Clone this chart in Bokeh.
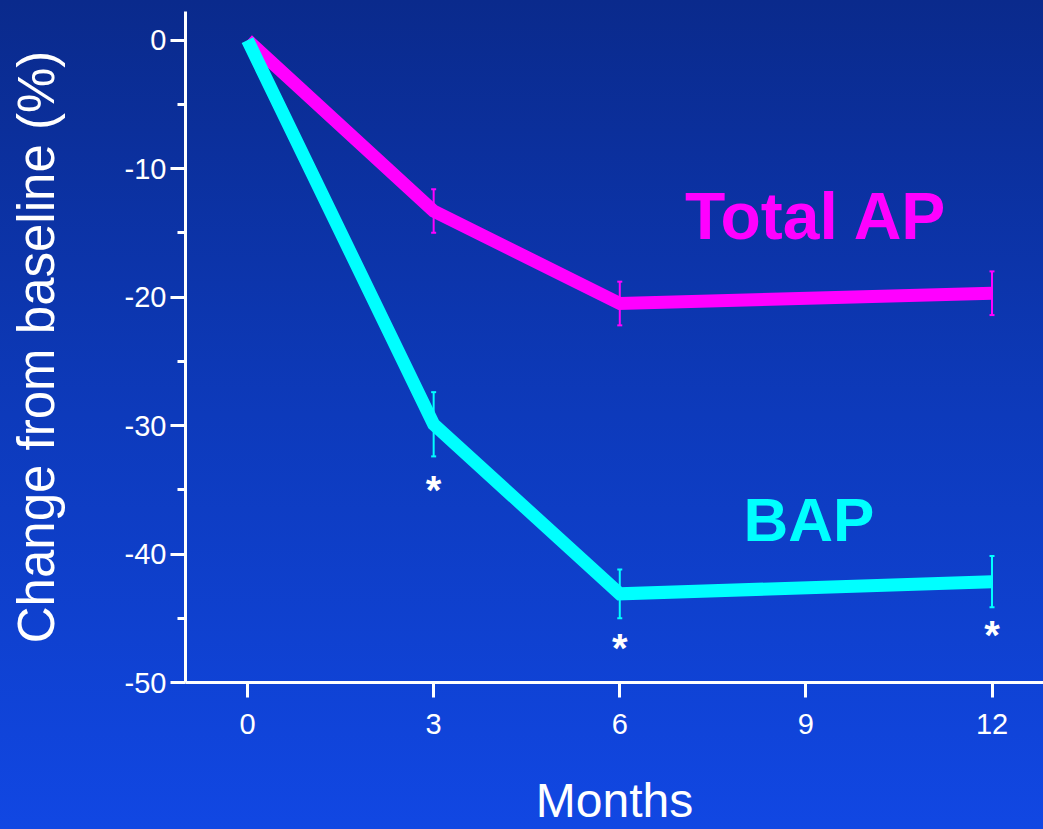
from bokeh.plotting import figure
from bokeh.models import (ColumnDataSource, Range1d, FixedTicker, Whisker, TeeHead,
                          GlobalInlineStyleSheet)
from bokeh.core.properties import value
from bokeh.embed import file_html
from bokeh.resources import INLINE

# ---- data ----
months = [0, 3, 6, 12]
total_ap = [0.0, -13.3, -20.5, -19.7]
bap = [0.0, -29.9, -43.1, -42.15]

err_months = [3, 6, 12]
total_ap_mean = [-13.3, -20.5, -19.7]
total_ap_err = [1.7, 1.7, 1.7]
bap_mean = [-29.9, -43.1, -42.15]
bap_err = [2.5, 1.9, 2.0]

star_months = [3, 6, 12]
star_y = [-34.6, -46.95, -45.9]

x_ticks = [0, 3, 6, 9, 12]
y_ticks = [-50, -40, -30, -20, -10, 0]
y_minor = [-45, -35, -25, -15, -5]

series_labels = ["Total AP", "BAP"]
label_x = [9.17, 9.05]
label_y = [-15.28, -38.87]

MAGENTA = "#FF00FF"
CYAN = "#00FFFF"
FONT = "Liberation Sans"

p = figure(width=1043, height=829, output_backend="svg", toolbar_location=None,
           x_range=Range1d(-1, 12.83), y_range=Range1d(-50, 2.23),
           min_border_left=185, min_border_top=11, min_border_bottom=147,
           min_border_right=0)
p.background_fill_alpha = 0
p.border_fill_alpha = 0
p.outline_line_color = None
p.grid.visible = False
p.stylesheets = [GlobalInlineStyleSheet(css=(
    "html{height:100%;background:linear-gradient(180deg,#0a2a8c 0%,#0d3abb 50%,#1147e3 100%);}"
    "body{background:transparent;}"))]

# axes
for ax in (p.xaxis[0], p.yaxis[0]):
    ax.axis_line_color = "white"
    ax.axis_line_width = 3
    ax.major_tick_line_color = "white"
    ax.major_tick_line_width = 3
    ax.major_tick_out = 15
    ax.major_tick_in = 0
    ax.major_label_text_color = "white"
    ax.major_label_text_font = FONT
    ax.major_label_text_font_size = "29px"
    ax.axis_label_text_color = "white"
    ax.axis_label_text_font = FONT
    ax.axis_label_text_font_style = "normal"

p.xaxis.ticker = FixedTicker(ticks=x_ticks)
p.xaxis.minor_tick_line_color = None
p.xaxis.major_label_standoff = 16
p.xaxis.axis_label = "Months"
p.xaxis.axis_label_text_font_size = "48px"
p.xaxis.axis_label_standoff = 37

p.yaxis.ticker = FixedTicker(ticks=y_ticks, minor_ticks=y_minor)
p.yaxis.major_label_overrides = {t: str(t) for t in y_ticks}
p.yaxis.minor_tick_line_color = "white"
p.yaxis.minor_tick_line_width = 3
p.yaxis.minor_tick_out = 8
p.yaxis.minor_tick_in = 1
p.yaxis.major_label_standoff = 4
p.yaxis.axis_label = "Change from baseline (%)"
p.yaxis.axis_label_text_font_size = "51px"
p.yaxis.axis_label_standoff = 57

# lines
src = ColumnDataSource(dict(x=months, tap=total_ap, bap=bap))
p.line("x", "tap", source=src, line_color=MAGENTA, line_width=13,
       line_join="miter", line_cap="butt")
p.line("x", "bap", source=src, line_color=CYAN, line_width=13,
       line_join="miter", line_cap="butt")

# error bars
for mean, err, col in ((total_ap_mean, total_ap_err, MAGENTA),
                       (bap_mean, bap_err, CYAN)):
    es = ColumnDataSource(dict(x=err_months,
                               upper=[m + e for m, e in zip(mean, err)],
                               lower=[m - e for m, e in zip(mean, err)]))
    w = Whisker(base="x", upper="upper", lower="lower", source=es,
                line_color=col, line_width=2, level="overlay",
                upper_head=TeeHead(size=5, line_color=col, line_width=2),
                lower_head=TeeHead(size=5, line_color=col, line_width=2))
    p.add_layout(w)

# asterisks
ss = ColumnDataSource(dict(x=star_months, y=star_y, t=["*"] * len(star_months)))
p.text("x", "y", text="t", source=ss, text_color="white",
       text_font=value(FONT), text_font_size="40px", text_font_style="bold",
       text_align="center", text_baseline="alphabetic", y_offset=5)

# series labels
ls = ColumnDataSource(dict(x=label_x, y=label_y, t=series_labels,
                           c=[MAGENTA, CYAN], s=["66px", "62px"]))
p.text("x", "y", text="t", source=ls, text_color="c",
       text_font=value(FONT), text_font_size="s", text_font_style="bold",
       text_align="center", text_baseline="alphabetic", y_offset=-20)

open("out.html", "w").write(file_html(p, INLINE))
